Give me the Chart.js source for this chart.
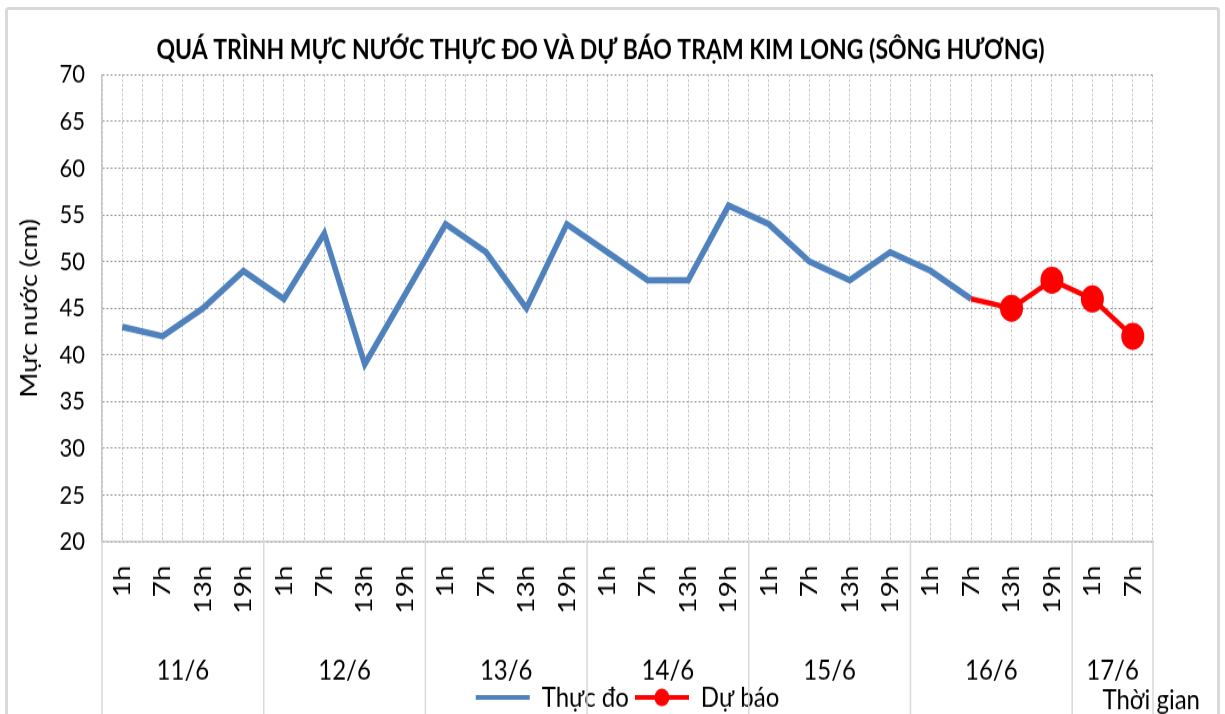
<!DOCTYPE html>
<html>
<head>
<meta charset="utf-8">
<title>Mực nước trạm Kim Long</title>
<script src="https://cdn.jsdelivr.net/npm/chart.js@4.4.0/dist/chart.umd.min.js"></script>
<style>
  html, body { margin: 0; padding: 0; background: #fff; overflow: hidden; }
  #frame { position: absolute; left: 5px; top: 7px; width: 1209px; height: 760px; border: 3px solid #d9d9d9; border-radius: 4px; }
  /* the reference is stretched a bit vertically */
  #wrap { position: absolute; left: 0; top: 0; width: 1225px; height: 620px; transform: scaleY(1.18); transform-origin: 0 0; }
</style>
</head>
<body>
<div id="frame"></div>
<div id="wrap"><canvas id="levelChart"></canvas></div>
<script>
// Tick labels and data
const hourLabels = ["1h", "7h", "13h", "19h", "1h", "7h", "13h", "19h", "1h", "7h", "13h", "19h",
  "1h", "7h", "13h", "19h", "1h", "7h", "13h", "19h", "1h", "7h", "13h", "19h", "1h", "7h"];
const dayLabels = ["11/6", "12/6", "13/6", "14/6", "15/6", "16/6", "17/6"];
const daySpans = [4, 4, 4, 4, 4, 4, 2];
const measured = [43, 42, 45, 49, 46, 53, 39, 46.5, 54, 51, 45, 54,
  51, 48, 48, 56, 54, 50, 48, 51, 49, 46, null, null, null, null];
const forecast = [null, null, null, null, null, null, null, null, null, null, null, null,
  null, null, null, null, null, null, null, null, null, 46, 45, 48, 46, 42];
const yMin = 20, yMax = 70, yStep = 5;

const FONT = "Lato";

// legend symbol for the forecast: line with a dot
const forecastSymbol = document.createElement("canvas");
forecastSymbol.width = 54;
forecastSymbol.height = 16;
{
  const c = forecastSymbol.getContext("2d");
  c.strokeStyle = "#ff0000";
  c.lineWidth = 4;
  c.beginPath();
  c.moveTo(0, 8);
  c.lineTo(54, 8);
  c.stroke();
  c.fillStyle = "#ff0000";
  c.beginPath();
  c.arc(27, 8, 7.5, 0, Math.PI * 2);
  c.fill();
}

// day groups under the hour ticks
const dayGroups = {
  id: "dayGroups",
  afterDraw(chart) {
    const { ctx, chartArea, scales: { x } } = chart;
    const half = (x.getPixelForTick(1) - x.getPixelForTick(0)) / 2;
    ctx.save();
    ctx.strokeStyle = "#d9d9d9";
    ctx.lineWidth = 1.5;
    ctx.fillStyle = "#000";
    ctx.font = "24px " + FONT;
    ctx.textAlign = "center";
    ctx.textBaseline = "middle";
    let start = 0;
    dayLabels.forEach((day, i) => {
      const end = start + daySpans[i] - 1;
      const left = x.getPixelForTick(start) - half;
      ctx.beginPath();
      ctx.moveTo(left, chartArea.bottom);
      ctx.lineTo(left, chart.height);
      ctx.stroke();
      ctx.fillText(day, (x.getPixelForTick(start) + x.getPixelForTick(end)) / 2, chartArea.bottom + 109);
      start = end + 1;
    });
    const right = x.getPixelForTick(start - 1) + half;
    ctx.beginPath();
    ctx.moveTo(right, chartArea.bottom);
    ctx.lineTo(right, chart.height);
    ctx.stroke();
    ctx.textAlign = "right";
    ctx.fillText("Thời gian", 1200, chartArea.bottom + 134);
    ctx.restore();
  }
};

const ctx = document.getElementById("levelChart");
const levelChart = new Chart(ctx, {
  type: "line",
  data: {
    labels: hourLabels,
    datasets: [
      {
        label: "Thực đo",
        data: measured,
        borderColor: "#4f81bd",
        backgroundColor: "#4f81bd",
        borderWidth: 5.5,
        pointRadius: 0,
        pointStyle: "line",
        tension: 0,
        order: 1,
      },
      {
        label: "Dự báo",
        data: forecast,
        borderColor: "#ff0000",
        backgroundColor: "#ff0000",
        borderWidth: 4.5,
        pointRadius: (c) => (c.dataIndex > 21 ? 11.5 : 0),
        pointBorderWidth: 0,
        pointBackgroundColor: "#ff0000",
        tension: 0,
        order: 0,
      },
    ],
  },
  options: {
    responsive: true,
    maintainAspectRatio: false,
    animation: false,
    layout: { padding: { left: 0, right: 24, top: 0, bottom: 7 } },
    scales: {
      x: {
        type: "category",
        position: "bottom",
        offset: true,
        grid: { offset: true, color: "#bdbdbd", drawTicks: false },
        border: { display: true, color: "#cfcfcf", width: 1.5, dash: [2, 2] },
        ticks: {
          color: "#000",
          font: { family: FONT, size: 24 },
          minRotation: 90,
          maxRotation: 90,
          autoSkip: false,
          padding: 20,
        },
        afterFit: (s) => { s.height = 114; },
      },
      x2: {
        type: "category",
        position: "bottom",
        offset: true,
        grid: { offset: false, color: "#bdbdbd", drawTicks: false },
        border: { display: false, dash: [2, 2] },
        ticks: { display: false },
        afterFit: (s) => { s.height = 0; },
      },
      y: {
        min: yMin,
        max: yMax,
        ticks: {
          stepSize: yStep,
          color: "#000",
          font: { family: FONT, size: 22 },
          padding: 17,
        },
        grid: { color: "#8f8f8f", drawTicks: false },
        border: { display: true, color: "#c8c8c8", width: 1.5, dash: [2, 2] },
        title: {
          display: true,
          text: "Mực nước (cm)",
          color: "#000",
          font: { family: FONT, size: 23 },
          padding: { top: 16, bottom: 0 },
        },
        afterFit: (s) => { s.width = 102; },
      },
      // empty strip on the right, keeps the plot where it is in the original
      yRight: {
        position: "right",
        min: yMin,
        max: yMax,
        grid: { drawOnChartArea: false, drawTicks: false },
        border: { display: false },
        ticks: { display: false },
        afterFit: (s) => { s.width = 48; },
      },
    },
    plugins: {
      title: {
        display: true,
        text: "QUÁ TRÌNH MỰC NƯỚC THỰC ĐO VÀ DỰ BÁO TRẠM KIM LONG (SÔNG HƯƠNG)",
        color: "#000",
        font: { family: FONT, size: 23, weight: "bold" },
        padding: { top: 28.3, bottom: 7.5 },
      },
      legend: {
        position: "bottom",
        fullSize: false,
        labels: {
          usePointStyle: true,
          pointStyleWidth: 54,
          padding: 6,
          color: "#000",
          font: { family: FONT, size: 24 },
          sort: (a, b) => a.datasetIndex - b.datasetIndex,
          generateLabels: (chart) => {
            const items = Chart.defaults.plugins.legend.labels.generateLabels(chart);
            items.forEach((it) => {
              if (it.datasetIndex === 0) {
                it.pointStyle = "line";
                it.lineWidth = 4;
              } else {
                it.pointStyle = forecastSymbol;
              }
            });
            return items;
          },
        },
      },
      tooltip: { enabled: false },
    },
  },
  plugins: [dayGroups],
});
</script>
</body>
</html>
